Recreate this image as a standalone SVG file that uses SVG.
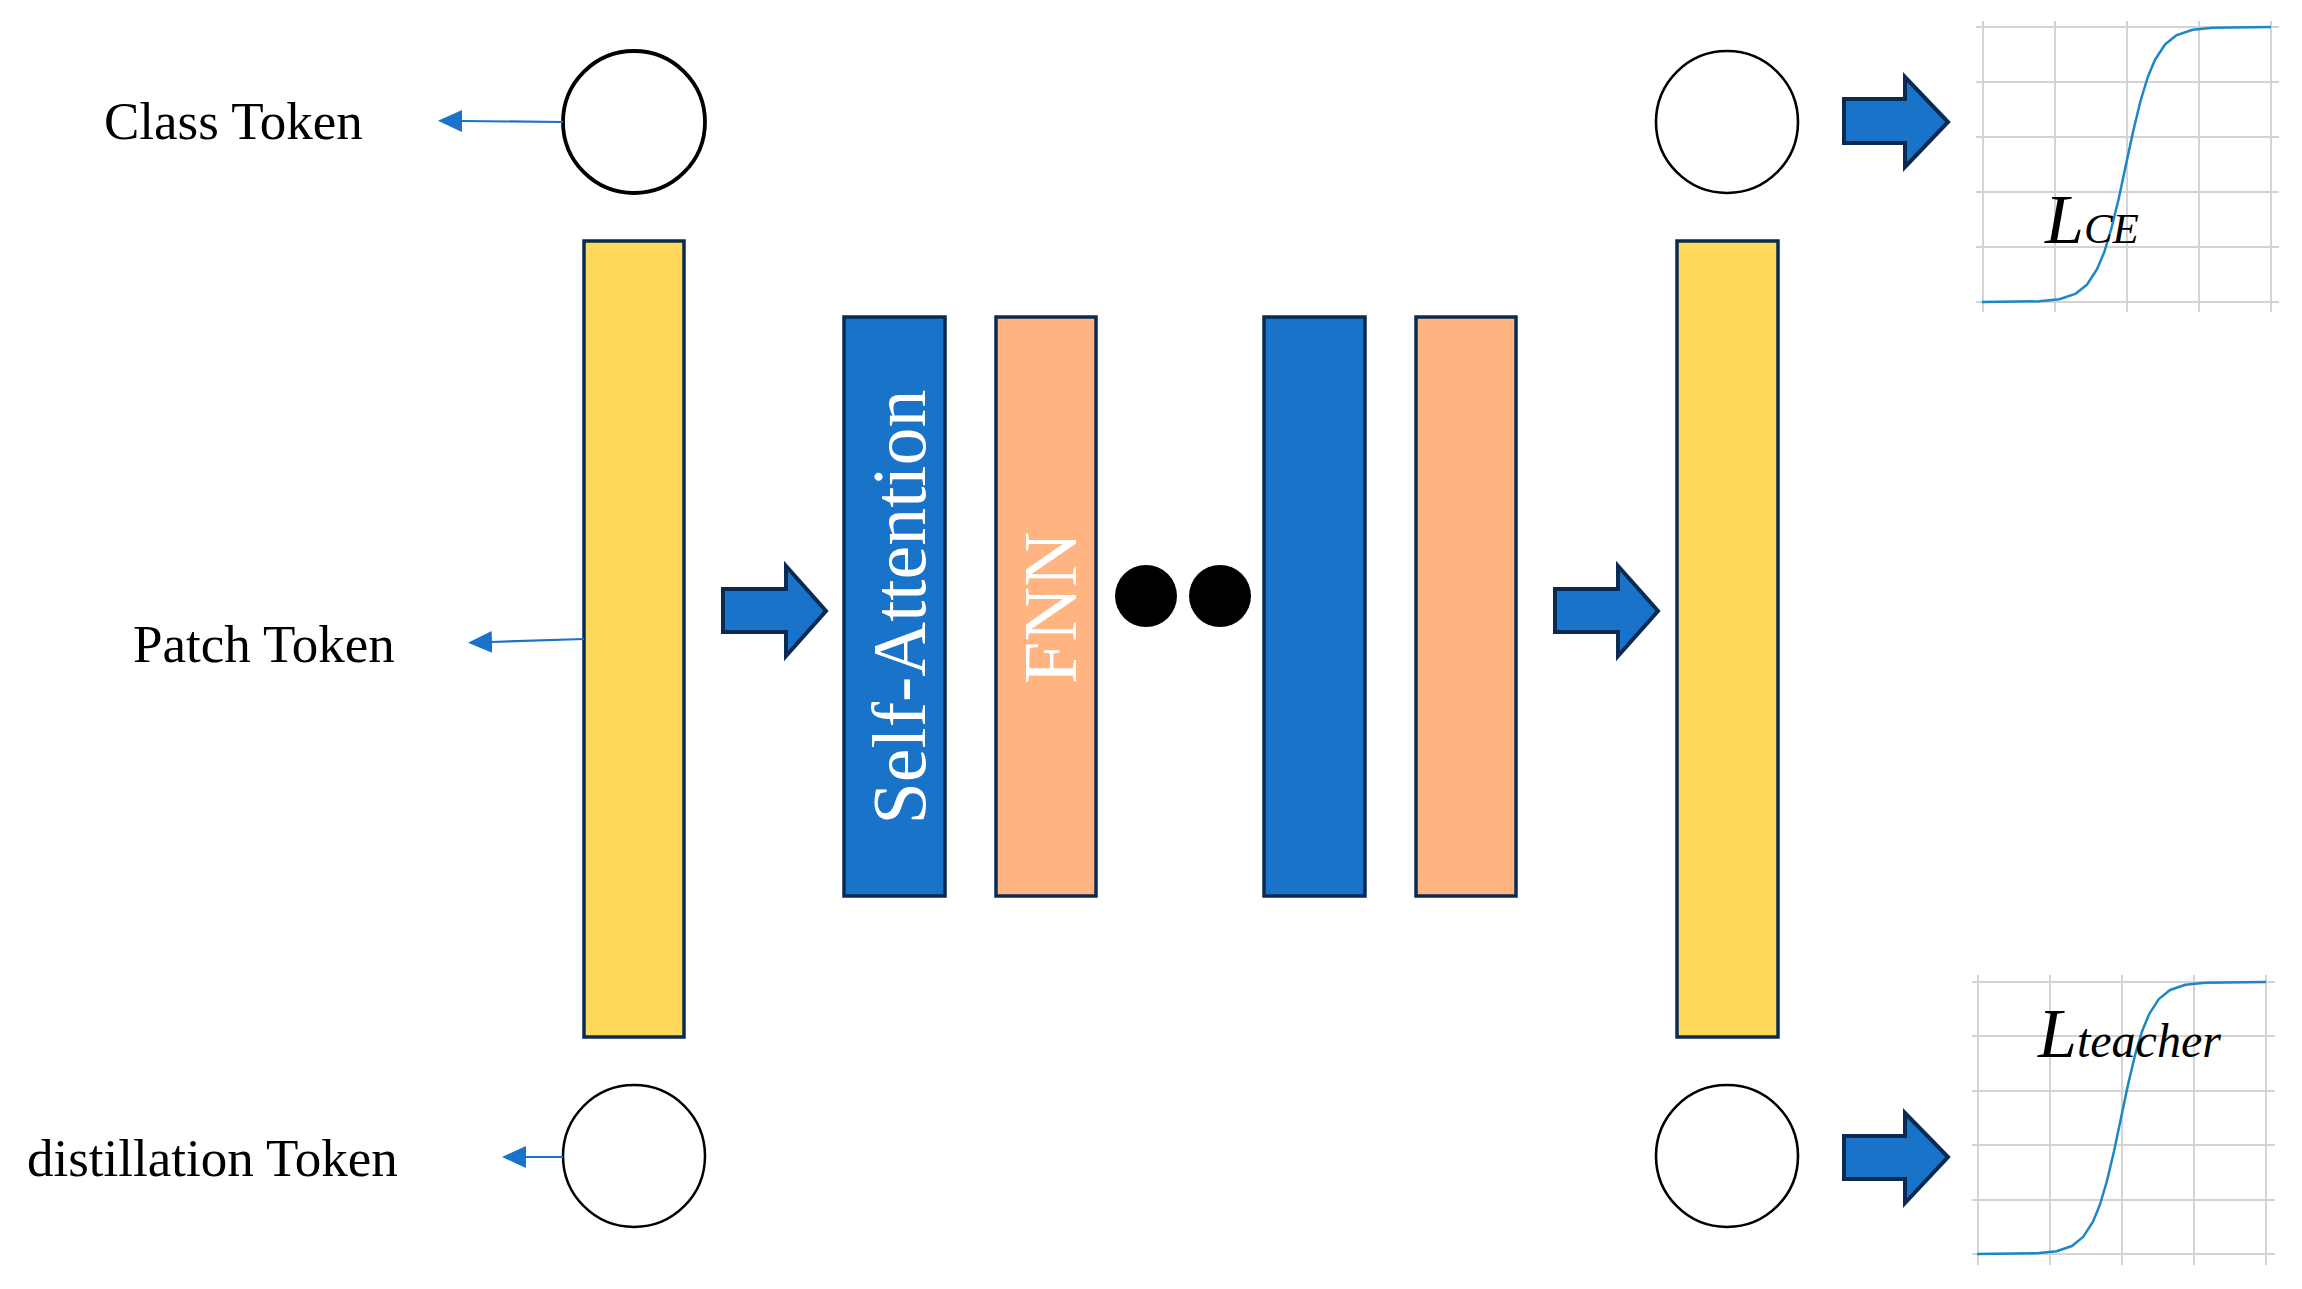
<svg xmlns="http://www.w3.org/2000/svg" width="2302" height="1289" viewBox="0 0 2302 1289">
<style>
.lbl{font-family:"Liberation Serif","Times New Roman",serif;font-size:53px;fill:#000}
.vt{font-family:"Liberation Serif","Times New Roman",serif;font-size:76px;fill:#fff}
.math{font-family:"Liberation Serif","Times New Roman",serif;font-style:italic;fill:#000}
.tok{fill:#fff;stroke:#000}
.yel{fill:#FFD95C;stroke:#0B2A52;stroke-width:3.5}
.blu{fill:#1873C9;stroke:#0B2A52;stroke-width:3.5}
.org{fill:#FFB482;stroke:#0B2A52;stroke-width:3.5}
.blk{fill:#1873C9;stroke:#0B2A52;stroke-width:4;stroke-linejoin:miter}
.thin{stroke:#1A72C9;stroke-width:2.2;fill:none;marker-end:url(#ah)}
.grid{stroke:#D3D3D3;stroke-width:2;fill:none}
.curve{stroke:#1C86C6;stroke-width:2.5;fill:none;stroke-linejoin:round}
</style>
<defs>
<marker id="ah" markerUnits="userSpaceOnUse" markerWidth="26" markerHeight="26" viewBox="0 0 26 26" refX="1" refY="12" orient="auto">
<path d="M0,1 L24,12 L0,23 Z" fill="#1A72C9"/>
</marker>
</defs>
<rect width="2302" height="1289" fill="#fff"/>

<g id="label-class"><text class="lbl" x="104" y="139">Class Token</text></g>
<g id="label-patch"><text class="lbl" x="133" y="662">Patch Token</text></g>
<g id="label-distill"><text class="lbl" x="27" y="1176">distillation Token</text></g>

<g id="class-token-in"><circle class="tok" cx="634" cy="122" r="71" stroke-width="3.8"/></g>
<g id="distill-token-in"><circle class="tok" cx="634" cy="1156" r="71" stroke-width="2.5"/></g>
<g id="patch-tokens-in"><rect class="yel" x="584" y="241" width="100" height="796"/></g>

<g id="self-attention">
<rect class="blu" x="844" y="317" width="101" height="579"/>
<text class="vt" transform="translate(925,607) rotate(-90)" text-anchor="middle">Self-Attention</text>
</g>
<g id="fnn">
<rect class="org" x="996" y="317" width="100" height="579"/>
<text class="vt" transform="translate(1076,608) rotate(-90)" text-anchor="middle">FNN</text>
</g>
<g id="ellipsis">
<circle cx="1146" cy="596" r="31" fill="#000"/>
<circle cx="1220" cy="596" r="31" fill="#000"/>
</g>
<g id="self-attention-n"><rect class="blu" x="1264" y="317" width="101" height="579"/></g>
<g id="fnn-n"><rect class="org" x="1416" y="317" width="100" height="579"/></g>

<g id="patch-tokens-out"><rect class="yel" x="1677" y="241" width="101" height="796"/></g>
<g id="class-token-out"><circle class="tok" cx="1727" cy="122" r="71" stroke-width="2.6"/></g>
<g id="distill-token-out"><circle class="tok" cx="1727" cy="1156" r="71" stroke-width="2.6"/></g>

<g id="loss-ce">
<path class="grid" d="M1983,21V312M2055,21V312M2127,21V312M2199,21V312M2271,21V312M1976,27H2279M1976,82H2279M1976,137H2279M1976,192H2279M1976,247H2279M1976,302H2279"/>
<polyline class="curve" points="1982,302 2039,301.3 2059.3,299.3 2075.3,293.9 2086.9,284.7 2097,269.3 2104.3,252 2111.5,228 2118.8,198.2 2126,164.5 2133.3,130.8 2140.5,101 2147.8,77 2155,59.7 2165.2,44.3 2176.8,35.1 2192.7,29.7 2213,27.7 2271,27"/>
<text class="math" x="2045" y="243" font-size="70">L<tspan font-size="43">CE</tspan></text>
</g>
<g id="loss-teacher">
<path class="grid" d="M1978,975V1265M2050,975V1265M2122,975V1265M2194,975V1265M2266,975V1265M1972,982H2275M1972,1036H2275M1972,1091H2275M1972,1145H2275M1972,1200H2275M1972,1254H2275"/>
<polyline class="curve" points="1977,1254 2037,1253.3 2056.6,1251.3 2072,1246 2083.2,1236.9 2093,1221.6 2100,1204.5 2107,1180.8 2114,1151.3 2121,1118 2128,1084.7 2135,1055.2 2142,1031.5 2149,1014.4 2158.8,999.1 2170,990 2185.4,984.7 2205,982.7 2266,982"/>
<text class="math" x="2038" y="1057" font-size="70">L<tspan font-size="48">teacher</tspan></text>
</g>

<g id="connectors">
<line class="thin" x1="563" y1="122" x2="461" y2="121"/>
<line class="thin" x1="584" y1="639" x2="491" y2="642"/>
<line class="thin" x1="563" y1="1157" x2="525" y2="1157"/>
<path class="blk" d="M723,589 H786 V566 L826,611 L786,656 V632 H723 Z"/>
<path class="blk" d="M1555,589 H1618 V566 L1658,611 L1618,656 V632 H1555 Z"/>
<path class="blk" d="M1844,99 H1905 V77 L1948,122 L1905,167 V143 H1844 Z"/>
<path class="blk" d="M1844,1136 H1905 V1113 L1948,1157 L1905,1203 V1179 H1844 Z"/>
</g>
</svg>
